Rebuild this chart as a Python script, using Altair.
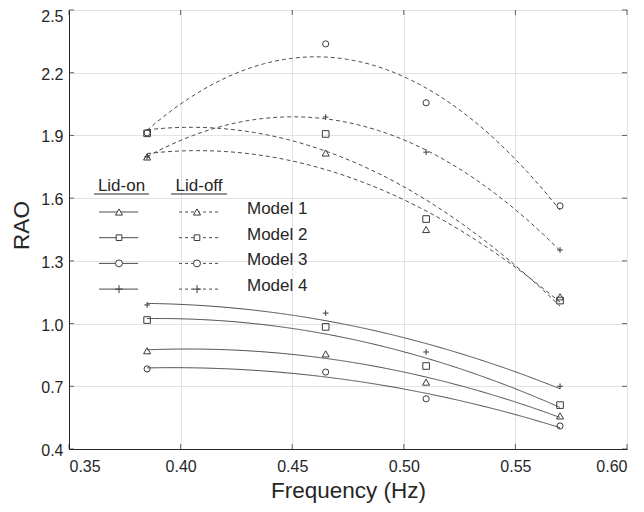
import altair as alt
import pandas as pd

# ---------------- data ----------------
freqs = [0.385, 0.465, 0.51, 0.57]
models = ["Model 1", "Model 2", "Model 3", "Model 4"]
conds = ["Lid-on", "Lid-off"]

lid_on = {
    "Model 1": [0.870, 0.855, 0.720, 0.558],
    "Model 2": [1.017, 0.984, 0.797, 0.610],
    "Model 3": [0.783, 0.768, 0.640, 0.510],
    "Model 4": [1.089, 1.050, 0.864, 0.700],
}
lid_off = {
    "Model 1": [1.797, 1.816, 1.450, 1.128],
    "Model 2": [1.910, 1.907, 1.500, 1.110],
    "Model 3": [1.912, 2.338, 2.056, 1.563],
    "Model 4": [1.797, 1.988, 1.820, 1.352],
}
x_ticks = [0.35, 0.40, 0.45, 0.50, 0.55, 0.60]
y_ticks = [0.4, 0.7, 1.0, 1.3, 1.6, 1.9, 2.2, 2.5]

# ---------------- tables ----------------
rows = []
for cond, table in (("Lid-on", lid_on), ("Lid-off", lid_off)):
    for m in models:
        for f, v in zip(freqs, table[m]):
            rows.append({"freq": f, "rao": v, "model": m, "cond": cond})
df = pd.DataFrame(rows)

W, H = 558, 439
INK = "#262626"
FONT = "Liberation Sans"
plus_path = "M-1,0L1,0M0,-1L0,1"

shape_scale = alt.Scale(domain=models, range=["triangle-up", "square", "circle", plus_path])
size_scale = alt.Scale(domain=models, range=[50, 32, 48, 64])
dash_scale = alt.Scale(domain=conds, range=[[1, 0], [4, 3]])

xscale = alt.Scale(domain=[0.35, 0.60], nice=False, zero=False)
yscale = alt.Scale(domain=[0.4, 2.5], nice=False, zero=False)

X = alt.X("freq:Q", scale=xscale,
          axis=alt.Axis(values=x_ticks, format=".2f", title="Frequency (Hz)",
                        tickSize=0, labelPadding=9, titlePadding=5))
Y = alt.Y("rao:Q", scale=yscale,
          axis=alt.Axis(values=y_ticks, format=".1f", title="RAO",
                        tickSize=0, labelPadding=6, titlePadding=7, titleY=215,
                        labelOffset={"condition": {"test": "datum.value >= 2.5", "value": 6.5},
                                     "value": 1.5}))

base = alt.Chart(df)

points = base.mark_point(filled=False, color="#3a3a3a", strokeWidth=1, opacity=1).encode(
    x=X, y=Y,
    shape=alt.Shape("model:N", scale=shape_scale, legend=None),
    size=alt.Size("model:N", scale=size_scale, legend=None),
)

fits = base.transform_regression(
    "freq", "rao", groupby=["model", "cond"], method="poly", order=2,
    extent=[freqs[0], freqs[-1]]
).mark_line(color="#4a4a4a", strokeWidth=1, clip=True).encode(
    x=X, y=Y,
    detail="model:N",
    strokeDash=alt.StrokeDash("cond:N", scale=dash_scale, legend=None),
)

# inward ticks on all four sides (MATLAB style box)
xt = pd.DataFrame({"freq": x_ticks})
yt = pd.DataFrame({"rao": y_ticks})
tick_layers = [
    alt.Chart(xt).mark_tick(orient="vertical", color=INK, size=5, thickness=1).encode(x=X, y=alt.value(H - 2.5)),
    alt.Chart(xt).mark_tick(orient="vertical", color=INK, size=5, thickness=1).encode(x=X, y=alt.value(2.5)),
    alt.Chart(yt).mark_tick(orient="horizontal", color=INK, size=5, thickness=1).encode(y=Y, x=alt.value(2.5)),
    alt.Chart(yt).mark_tick(orient="horizontal", color=INK, size=5, thickness=1).encode(y=Y, x=alt.value(W - 2.5)),
]

# ---------------- hand-made legend (pixel layout) ----------------
one = pd.DataFrame({"a": [0]})
leg = []
row0, step = 202, 25.7
col_on = (30, 69, 50)
col_off = (110, 149, 128)
hdr_y = 181
for label, (xa, xb, xm), ul in (("Lid-on", col_on, (25, 80)), ("Lid-off", col_off, (102, 158))):
    leg.append(alt.Chart(one).mark_text(text=label, fontSize=17, color=INK, align="center",
                                        baseline="alphabetic", font=FONT)
               .encode(x=alt.value((ul[0] + ul[1]) / 2), y=alt.value(hdr_y)))
    leg.append(alt.Chart(one).mark_rule(color=INK, strokeWidth=1)
               .encode(x=alt.value(ul[0]), x2=alt.value(ul[1]), y=alt.value(hdr_y + 3)))
shapes = ["triangle-up", "square", "circle", plus_path]
sizes = [50, 32, 48, 64]
for i, m in enumerate(models):
    yy = row0 + i * step
    for (xa, xb, xm), dash in ((col_on, [1, 0]), (col_off, [3, 3])):
        leg.append(alt.Chart(one).mark_rule(color="#4a4a4a", strokeWidth=1, strokeDash=dash)
                   .encode(x=alt.value(xa), x2=alt.value(xb), y=alt.value(yy)))
        leg.append(alt.Chart(one).mark_point(shape=shapes[i], size=sizes[i], filled=False,
                                             color="#3a3a3a", strokeWidth=1, opacity=1, fill="white")
                   .encode(x=alt.value(xm), y=alt.value(yy)))
    leg.append(alt.Chart(one).mark_text(text=m, fontSize=17, color=INK, align="left",
                                        baseline="middle", font=FONT)
               .encode(x=alt.value(178), y=alt.value(yy - 3)))

chart = alt.layer(fits, points, *tick_layers, *leg).properties(
    width=W, height=H,
    autosize=alt.AutoSizeParams(type="none"),
    padding={"left": 61, "top": 2, "right": 8, "bottom": 55},
).configure(font=FONT).configure_view(
    stroke=INK, strokeWidth=1
).configure_axis(
    labelFont=FONT, titleFont=FONT, labelColor=INK, titleColor=INK,
    labelFontSize=16, titleFontSize=22.5, titleFontWeight="normal",
    domainColor=INK, grid=True, gridColor="#e3e3e3", gridWidth=1,
)

chart.save("out.html", embed_options={"renderer": "svg", "actions": False})
